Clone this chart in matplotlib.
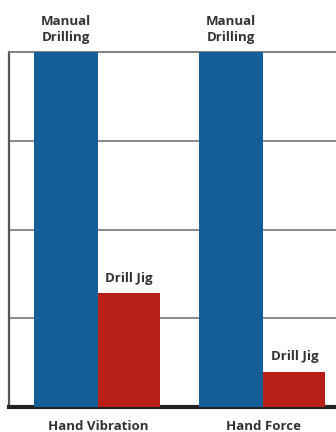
import matplotlib.pyplot as plt
import numpy as np

categories = ["Hand Vibration", "Hand Force"]
manual = [100, 100]
jig = [32, 10]
manual_label = "Manual\nDrilling"
jig_label = "Drill Jig"

blue = "#155f99"
red = "#b71f17"
txt = "#333333"

plt.rcParams['font.family'] = ['Open Sans', 'DejaVu Sans']

fig = plt.figure(figsize=(3.36, 4.32), dpi=100)
ax = fig.add_axes([9 / 336, 1 - 407 / 432, 1 - 9 / 336, 355 / 432])

x = np.arange(len(categories))
wb = 0.39
wr = 0.376
ax.bar(x - wb / 2, manual, wb, color=blue, zorder=3)
ax.bar(x + wr / 2, jig, wr, color=red, zorder=3)

ax.set_xlim(-0.54, 1.44)
ax.set_ylim(0, 100)
ax.set_yticks([25, 50, 75])
ax.yaxis.grid(True, color="#8a8a8a", lw=1.4, zorder=0)
ax.tick_params(left=False, bottom=False, labelleft=False, labelbottom=False)

ax.spines["right"].set_visible(False)
ax.spines["top"].set_color("#777777")
ax.spines["top"].set_linewidth(1.3)
ax.spines["left"].set_color("#555555")
ax.spines["left"].set_linewidth(1.6)
ax.spines["bottom"].set_color("#222222")
ax.spines["bottom"].set_linewidth(3)

for i, c in enumerate(categories):
    ax.text(x[i] - wb / 2, 102.2, manual_label, ha="center", va="bottom",
            fontsize=9.5, fontweight="bold", color=txt, linespacing=1.3,
            clip_on=False)
    ax.text(x[i] + wr / 2, jig[i] + 2.5, jig_label, ha="center", va="bottom",
            fontsize=9.5, fontweight="bold", color=txt)
    ax.text(x[i], -3.8, c, ha="center", va="top", fontsize=9.5,
            fontweight="bold", color=txt, clip_on=False)

fig.savefig("out.png", dpi=100)
